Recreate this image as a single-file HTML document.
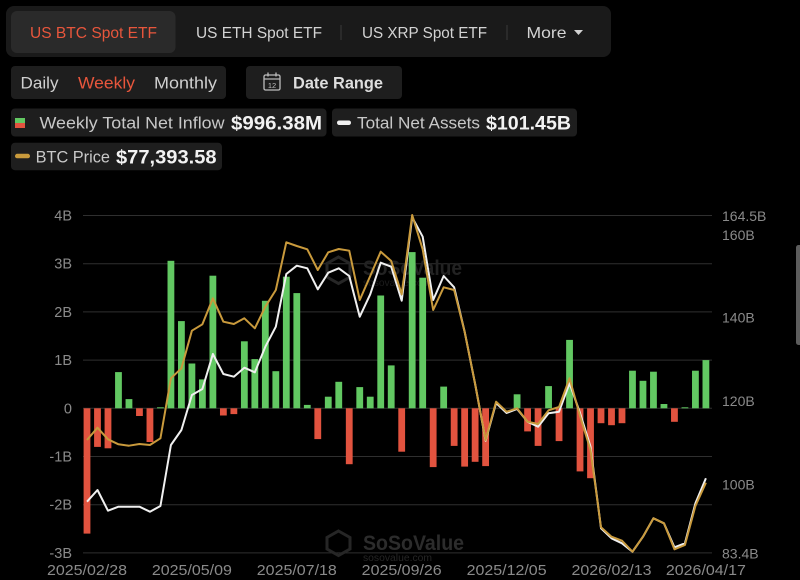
<!DOCTYPE html>
<html><head><meta charset="utf-8"><style>
html,body{margin:0;padding:0;background:#000;width:800px;height:580px;overflow:hidden}
svg{display:block}
text{font-family:"Liberation Sans",sans-serif}
</style></head><body>
<svg width="800" height="580" viewBox="0 0 800 580" xmlns="http://www.w3.org/2000/svg">
<rect x="0" y="0" width="800" height="580" fill="#000"/>
<!-- Tabs -->
<rect x="6" y="6" width="605" height="51" rx="8" fill="#1a1a1a"/>
<rect x="11" y="11" width="164.5" height="42" rx="6" fill="#2a2a2a"/>
<text x="30" y="38" font-size="16" fill="#e8563c" textLength="127" lengthAdjust="spacingAndGlyphs">US BTC Spot ETF</text>
<text x="196" y="38" font-size="16" fill="#d3d3d3" textLength="126" lengthAdjust="spacingAndGlyphs">US ETH Spot ETF</text>
<line x1="341" y1="25" x2="341" y2="40" stroke="#3a3a3a" stroke-width="1"/>
<text x="362" y="38" font-size="16" fill="#d3d3d3" textLength="125" lengthAdjust="spacingAndGlyphs">US XRP Spot ETF</text>
<line x1="507" y1="25" x2="507" y2="40" stroke="#3a3a3a" stroke-width="1"/>
<text x="526.5" y="38" font-size="16" fill="#d3d3d3" textLength="40" lengthAdjust="spacingAndGlyphs">More</text>
<polygon points="574,30 583,30 578.5,35" fill="#d3d3d3"/>
<!-- Period -->
<rect x="11" y="66" width="215" height="33" rx="4" fill="#1e1e1e"/>
<text x="20.5" y="88.5" font-size="17" fill="#cfcfcf" textLength="38" lengthAdjust="spacingAndGlyphs">Daily</text>
<text x="78" y="88.5" font-size="17" fill="#e8563c" textLength="57" lengthAdjust="spacingAndGlyphs">Weekly</text>
<text x="154" y="88.5" font-size="17" fill="#cfcfcf" textLength="63" lengthAdjust="spacingAndGlyphs">Monthly</text>
<rect x="246" y="66" width="156" height="33" rx="4" fill="#1e1e1e"/>
<rect x="264" y="75" width="16" height="15" rx="1.5" fill="none" stroke="#bdbdbd" stroke-width="1.3"/>
<line x1="264" y1="79" x2="280" y2="79" stroke="#bdbdbd" stroke-width="1.2"/>
<line x1="268" y1="72.5" x2="268" y2="76.5" stroke="#bdbdbd" stroke-width="1.3"/>
<line x1="276" y1="72.5" x2="276" y2="76.5" stroke="#bdbdbd" stroke-width="1.3"/>
<text x="272" y="88" font-size="7.5" fill="#bdbdbd" text-anchor="middle">12</text>
<text x="293" y="88.5" font-size="17" font-weight="bold" fill="#dedede" textLength="90" lengthAdjust="spacingAndGlyphs">Date Range</text>
<!-- Legend -->
<rect x="11" y="108.5" width="315.5" height="28" rx="4" fill="#1e1e1e"/>
<rect x="15" y="118" width="10" height="5" fill="#62c862"/>
<rect x="15" y="123" width="10" height="5" fill="#e2533f"/>
<text x="39.5" y="128.5" font-size="17" fill="#c8c8c8" textLength="185" lengthAdjust="spacingAndGlyphs">Weekly Total Net Inflow</text>
<text x="231" y="129.5" font-size="19" font-weight="bold" fill="#f2f2f2" textLength="91" lengthAdjust="spacingAndGlyphs">$996.38M</text>
<rect x="332" y="108.5" width="245" height="28" rx="4" fill="#1e1e1e"/>
<rect x="337" y="120.5" width="14" height="4.5" rx="2.2" fill="#f0f0f0"/>
<text x="357" y="128.5" font-size="17" fill="#c8c8c8" textLength="123" lengthAdjust="spacingAndGlyphs">Total Net Assets</text>
<text x="486" y="129.5" font-size="19" font-weight="bold" fill="#f2f2f2" textLength="85" lengthAdjust="spacingAndGlyphs">$101.45B</text>
<rect x="11" y="142.7" width="211" height="27.5" rx="4" fill="#1e1e1e"/>
<rect x="15" y="153.8" width="15" height="4.5" rx="2.2" fill="#c99a3c"/>
<text x="35.6" y="162.5" font-size="17" fill="#c8c8c8" textLength="74.4" lengthAdjust="spacingAndGlyphs">BTC Price</text>
<text x="116" y="163.5" font-size="19" font-weight="bold" fill="#f2f2f2" textLength="100.6" lengthAdjust="spacingAndGlyphs">$77,393.58</text>
<!-- Gridlines -->
<g stroke="#2f2f2f" stroke-width="1">
<line x1="83" y1="215.5" x2="712" y2="215.5"/>
<line x1="83" y1="263.7" x2="712" y2="263.7"/>
<line x1="83" y1="311.9" x2="712" y2="311.9"/>
<line x1="83" y1="360.1" x2="712" y2="360.1"/>
<line x1="83" y1="408.3" x2="712" y2="408.3"/>
<line x1="83" y1="456.5" x2="712" y2="456.5"/>
<line x1="83" y1="504.7" x2="712" y2="504.7"/>
<line x1="83" y1="552.9" x2="712" y2="552.9"/>
</g>
<!-- Watermarks -->
<g fill="none" stroke="#262626" stroke-width="3">
<polygon points="338.5,257 350,263.5 350,277 338.5,283.5 327,277 327,263.5"/>
<polygon points="338.5,531 350,537.5 350,549 338.5,555.5 327,549 327,537.5"/>
</g>
<text x="363" y="275" font-size="21" font-weight="bold" fill="#222" textLength="99" lengthAdjust="spacingAndGlyphs">SoSoValue</text>
<text x="363" y="286" font-size="10" fill="#1c1c1c" textLength="68" lengthAdjust="spacingAndGlyphs">sosovalue.com</text>
<text x="363" y="550" font-size="21" font-weight="bold" fill="#2c2c2c" textLength="101" lengthAdjust="spacingAndGlyphs">SoSoValue</text>
<text x="363" y="561" font-size="10" fill="#262626" textLength="69" lengthAdjust="spacingAndGlyphs">sosovalue.com</text>
<!-- Bars -->
<g fill="#62c862">
<rect x="115.07" y="372.1" width="6.8" height="36.2"/>
<rect x="125.56" y="399.1" width="6.8" height="9.2"/>
<rect x="157.03" y="407.3" width="6.8" height="1"/>
<rect x="167.52" y="260.8" width="6.8" height="147.5"/>
<rect x="178.01" y="321.1" width="6.8" height="87.2"/>
<rect x="188.5" y="363.5" width="6.8" height="44.8"/>
<rect x="198.99" y="379.4" width="6.8" height="28.9"/>
<rect x="209.48" y="275.7" width="6.8" height="132.6"/>
<rect x="240.95" y="341.3" width="6.8" height="67"/>
<rect x="251.44" y="359.1" width="6.8" height="49.2"/>
<rect x="261.93" y="300.8" width="6.8" height="107.5"/>
<rect x="272.42" y="371.2" width="6.8" height="37.1"/>
<rect x="282.91" y="276.7" width="6.8" height="131.6"/>
<rect x="293.4" y="293.1" width="6.8" height="115.2"/>
<rect x="303.89" y="404.9" width="6.8" height="3.4"/>
<rect x="324.87" y="396.7" width="6.8" height="11.6"/>
<rect x="335.36" y="381.8" width="6.8" height="26.5"/>
<rect x="356.34" y="387.1" width="6.8" height="21.2"/>
<rect x="366.83" y="396.7" width="6.8" height="11.6"/>
<rect x="377.32" y="295.5" width="6.8" height="112.8"/>
<rect x="387.81" y="365.4" width="6.8" height="42.9"/>
<rect x="408.79" y="252.1" width="6.8" height="156.2"/>
<rect x="419.28" y="277.7" width="6.8" height="130.6"/>
<rect x="440.26" y="386.6" width="6.8" height="21.7"/>
<rect x="513.69" y="394.3" width="6.8" height="14"/>
<rect x="545.16" y="386.1" width="6.8" height="22.2"/>
<rect x="566.14" y="339.9" width="6.8" height="68.4"/>
<rect x="629.08" y="370.7" width="6.8" height="37.6"/>
<rect x="639.57" y="380.8" width="6.8" height="27.5"/>
<rect x="650.06" y="371.7" width="6.8" height="36.6"/>
<rect x="660.55" y="404.0" width="6.8" height="4.3"/>
<rect x="681.53" y="407.3" width="6.8" height="1"/>
<rect x="692.02" y="370.7" width="6.8" height="37.6"/>
<rect x="702.51" y="360.1" width="6.8" height="48.2"/>
</g>
<g fill="#e2533f">
<rect x="83.6" y="408.3" width="6.8" height="125.3"/>
<rect x="94.09" y="408.3" width="6.8" height="38.6"/>
<rect x="104.58" y="408.3" width="6.8" height="40"/>
<rect x="136.05" y="408.3" width="6.8" height="7.7"/>
<rect x="146.54" y="408.3" width="6.8" height="33.7"/>
<rect x="219.97" y="408.3" width="6.8" height="7.2"/>
<rect x="230.46" y="408.3" width="6.8" height="5.8"/>
<rect x="314.38" y="408.3" width="6.8" height="30.8"/>
<rect x="345.85" y="408.3" width="6.8" height="55.9"/>
<rect x="398.3" y="408.3" width="6.8" height="43.4"/>
<rect x="429.77" y="408.3" width="6.8" height="58.8"/>
<rect x="450.75" y="408.3" width="6.8" height="37.6"/>
<rect x="461.24" y="408.3" width="6.8" height="58.3"/>
<rect x="471.73" y="408.3" width="6.8" height="53.5"/>
<rect x="482.22" y="408.3" width="6.8" height="57.8"/>
<rect x="524.18" y="408.3" width="6.8" height="23.1"/>
<rect x="534.67" y="408.3" width="6.8" height="37.6"/>
<rect x="555.65" y="408.3" width="6.8" height="32.8"/>
<rect x="576.63" y="408.3" width="6.8" height="63.1"/>
<rect x="587.12" y="408.3" width="6.8" height="69.9"/>
<rect x="597.61" y="408.3" width="6.8" height="14.9"/>
<rect x="608.1" y="408.3" width="6.8" height="16.9"/>
<rect x="618.59" y="408.3" width="6.8" height="14.9"/>
<rect x="671.04" y="408.3" width="6.8" height="13.5"/>
</g>
<!-- Lines -->
<polyline fill="none" stroke="#f0f0f0" stroke-width="2" stroke-linejoin="round" points="87,501.7 97.49,490 107.98,510.7 118.47,506.7 128.96,506.7 139.45,506.7 149.94,511.7 160.43,506 170.92,445 181.41,430 191.9,395 202.39,389 212.88,354 223.37,374 233.86,376.7 244.35,367.7 254.84,372.3 265.33,346.7 275.82,326.7 286.31,274 296.8,265.7 307.29,268.3 317.78,289.3 328.27,272.7 338.76,268.3 349.25,276 359.74,316.7 370.23,294.3 380.72,262.7 391.21,266.7 401.7,300.7 412.19,217.3 422.68,236.7 433.17,300 443.66,276 454.15,287.3 464.64,331.7 475.13,384 485.62,440.7 496.11,403 506.6,413 517.09,409 527.58,421.7 538.07,426.7 548.56,413.3 559.05,411.7 569.54,383.3 580.03,413 590.52,446.7 601.01,528.3 611.5,538.3 621.99,543.3 632.48,551.7 642.97,536.7 653.46,518.3 663.95,523.3 674.44,547.3 684.93,543.3 695.42,503.3 705.91,478.3"/>
<polyline fill="none" stroke="#c99a3c" stroke-width="2" stroke-linejoin="round" points="87,440 97.49,427.7 107.98,439.3 118.47,444.3 128.96,445.7 139.45,444 149.94,445 160.43,438.3 170.92,378.3 181.41,368.3 191.9,330.7 202.39,324.3 212.88,298.3 223.37,321.7 233.86,324 244.35,318.3 254.84,328.3 265.33,306.7 275.82,290 286.31,242.3 296.8,246 307.29,249.3 317.78,270 328.27,252.3 338.76,249 349.25,250.7 359.74,300 370.23,276 380.72,251.7 391.21,261 401.7,294.3 412.19,215 422.68,249.3 433.17,310 443.66,287.3 454.15,290 464.64,331.7 475.13,384 485.62,440 496.11,401.7 506.6,411.7 517.09,408.3 527.58,421.7 538.07,424 548.56,410.3 559.05,407 569.54,378.3 580.03,416 590.52,450 601.01,527.3 611.5,536.7 621.99,540.7 632.48,551.7 642.97,536.7 653.46,518.3 663.95,523.3 674.44,549.3 684.93,545 695.42,506 705.91,482.7"/>
<!-- Left axis labels -->
<g font-size="14.5" fill="#8a8a8a" text-anchor="end">
<text x="72" y="220.5">4B</text>
<text x="72" y="268.7">3B</text>
<text x="72" y="316.9">2B</text>
<text x="72" y="365.1">1B</text>
<text x="72" y="413.3">0</text>
<text x="72" y="461.5">-1B</text>
<text x="72" y="509.7">-2B</text>
<text x="72" y="557.9">-3B</text>
</g>
<!-- Right axis labels -->
<g font-size="14" fill="#8a8a8a">
<text x="722" y="221">164.5B</text>
<text x="722" y="240">160B</text>
<text x="722" y="322.5">140B</text>
<text x="722" y="406">120B</text>
<text x="722" y="489.5">100B</text>
<text x="722" y="558.5">83.4B</text>
</g>
<!-- X axis labels -->
<g font-size="15" fill="#8a8a8a" text-anchor="middle">
<text x="87" y="575" textLength="80" lengthAdjust="spacingAndGlyphs">2025/02/28</text>
<text x="191.9" y="575" textLength="80" lengthAdjust="spacingAndGlyphs">2025/05/09</text>
<text x="296.8" y="575" textLength="80" lengthAdjust="spacingAndGlyphs">2025/07/18</text>
<text x="401.7" y="575" textLength="80" lengthAdjust="spacingAndGlyphs">2025/09/26</text>
<text x="506.6" y="575" textLength="80" lengthAdjust="spacingAndGlyphs">2025/12/05</text>
<text x="611.5" y="575" textLength="80" lengthAdjust="spacingAndGlyphs">2026/02/13</text>
<text x="705.9" y="575" textLength="80" lengthAdjust="spacingAndGlyphs">2026/04/17</text>
</g>
<!-- Scrollbar -->
<rect x="796" y="245" width="6" height="100" rx="2.5" fill="#5c5c5c"/>
</svg>
</body></html>
